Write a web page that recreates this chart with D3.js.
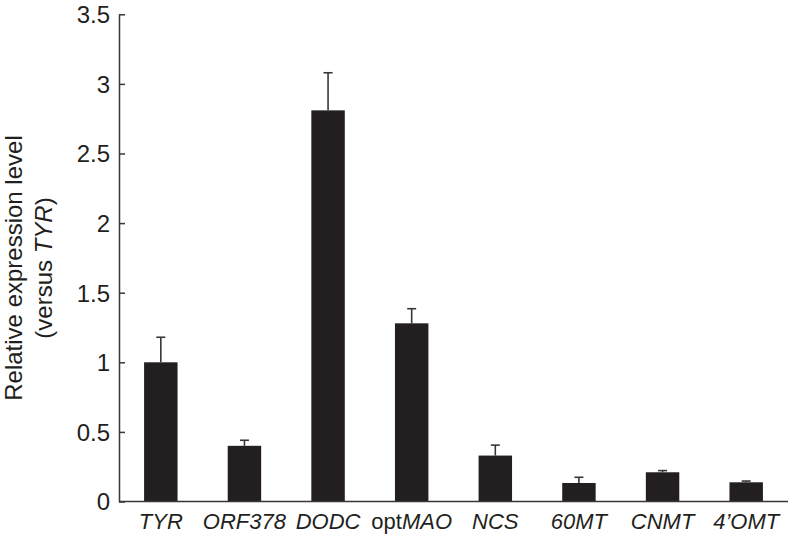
<!DOCTYPE html>
<html>
<head>
<meta charset="utf-8">
<script src="https://cdn.jsdelivr.net/npm/d3@7"></script>
<style>
  body { margin: 0; background: #fff; }
  text { font-family: "Liberation Sans", Arial, sans-serif; fill: #231f20; }
</style>
</head>
<body>
<div id="chart"></div>
<script>
// gene names, [prefix (upright), italic part]
const genes = [["", "TYR"], ["", "ORF378"], ["", "DODC"], ["opt", "MAO"], ["", "NCS"], ["", "60MT"], ["", "CNMT"], ["", "4\u2019OMT"]];
const means = [1.0, 0.40, 2.81, 1.28, 0.33, 0.133, 0.21, 0.138];
const errTops = [1.18, 0.44, 3.08, 1.385, 0.405, 0.174, 0.222, 0.147];
const yTicks = [0, 0.5, 1, 1.5, 2, 2.5, 3, 3.5];

let settings = {
    width: 788,
    height: 546,
    left: 119,
    right: 788,
    top: 14.3,
    bottom: 501.5,
    font: 22,
    bigFont: 24,
    ink: "#231f20",
};

let svg = d3.select("#chart").append("svg")
    .attr("width", settings.width)
    .attr("height", settings.height);

let x = d3.scaleBand()
    .domain(d3.range(genes.length))
    .range([settings.left, settings.right])
    .paddingInner(0.6)
    .paddingOuter(0.3);

let y = d3.scaleLinear()
    .domain([0, 3.5])
    .range([settings.bottom, settings.top]);

// bars
svg.append("g").selectAll("rect")
    .data(means)
    .enter().append("rect")
    .attr("x", (d, i) => x(i))
    .attr("width", x.bandwidth())
    .attr("y", d => y(d))
    .attr("height", d => y(0) - y(d))
    .attr("fill", settings.ink);

// error bars (upper only)
let err = svg.append("g")
    .attr("stroke", "#3a3637")
    .attr("stroke-width", 1.6)
    .selectAll("g")
    .data(errTops)
    .enter().append("g");

err.append("line")
    .attr("x1", (d, i) => x(i) + x.bandwidth() / 2)
    .attr("x2", (d, i) => x(i) + x.bandwidth() / 2)
    .attr("y1", (d, i) => y(means[i]))
    .attr("y2", d => y(d));

err.append("line")
    .attr("x1", (d, i) => x(i) + x.bandwidth() / 2 - 4.5)
    .attr("x2", (d, i) => x(i) + x.bandwidth() / 2 + 4.5)
    .attr("y1", d => y(d))
    .attr("y2", d => y(d));

// y axis, ticks pointing inward
let yAxis = svg.append("g")
    .attr("transform", "translate(" + settings.left + ",0)")
    .call(d3.axisRight(y).tickValues(yTicks).tickSize(6).tickSizeOuter(0).tickFormat(d3.format("")));

yAxis.select(".domain").attr("stroke", "#3a3637").attr("stroke-width", 1.5);
yAxis.selectAll(".tick line").attr("stroke", "#3a3637").attr("stroke-width", 1.5);
yAxis.selectAll(".tick text")
    .attr("x", -9)
    .attr("dy", "0.35em")
    .attr("text-anchor", "end")
    .attr("font-size", settings.bigFont)
    .attr("font-family", null)
    .attr("fill", settings.ink);

// x axis line, no ticks
svg.append("line")
    .attr("x1", settings.left)
    .attr("x2", settings.right)
    .attr("y1", y(0))
    .attr("y2", y(0))
    .attr("stroke", "#3a3637")
    .attr("stroke-width", 1.5);

// category labels
let labels = svg.append("g").selectAll("text")
    .data(genes)
    .enter().append("text")
    .attr("x", (d, i) => x(i) + x.bandwidth() / 2)
    .attr("y", y(0) + 27.5)
    .attr("text-anchor", "middle")
    .attr("font-size", settings.font);

labels.append("tspan").text(d => d[0]);
labels.append("tspan").attr("font-style", "italic").text(d => d[1]);

// y title, two lines
let title = svg.append("g")
    .attr("transform", "translate(0,268) rotate(-90)");

title.append("text")
    .attr("x", 0)
    .attr("y", 22)
    .attr("text-anchor", "middle")
    .attr("font-size", settings.bigFont)
    .text("Relative expression level");

let t2 = title.append("text")
    .attr("x", 0)
    .attr("y", 52)
    .attr("text-anchor", "middle")
    .attr("font-size", settings.bigFont);
t2.append("tspan").text("(versus ");
t2.append("tspan").attr("font-style", "italic").text("TYR");
t2.append("tspan").text(")");
</script>
</body>
</html>
